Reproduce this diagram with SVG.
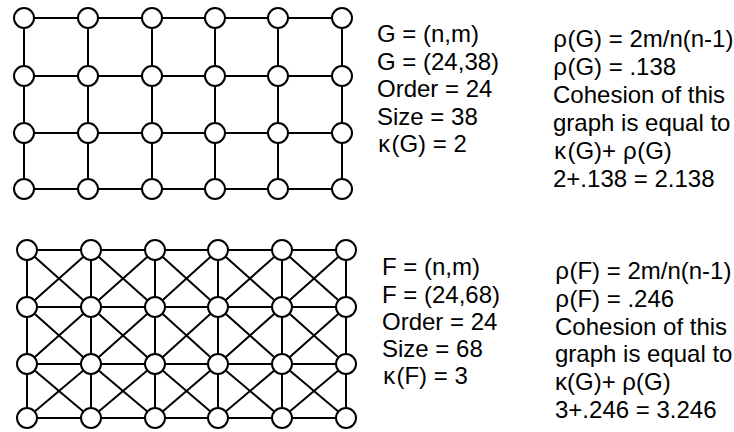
<svg xmlns="http://www.w3.org/2000/svg" width="734" height="432" viewBox="0 0 734 432">
<style>
.e{stroke:#000;stroke-width:2;fill:none}
.n{fill:#fff;stroke:#000;stroke-width:2}
.t{font-family:"Liberation Sans",Arial,sans-serif;font-size:24px;fill:#000}
.m{font-family:"Liberation Mono","Courier New",monospace}
</style>
<rect width="734" height="432" fill="#fff"/>
<g id="connectors">
<line class="e" x1="24" y1="18" x2="88" y2="18"/><line class="e" x1="88" y1="18" x2="152" y2="18"/><line class="e" x1="152" y1="18" x2="215" y2="18"/><line class="e" x1="215" y1="18" x2="278" y2="18"/><line class="e" x1="278" y1="18" x2="342" y2="18"/>
<line class="e" x1="24" y1="76" x2="88" y2="76"/><line class="e" x1="88" y1="76" x2="152" y2="76"/><line class="e" x1="152" y1="76" x2="215" y2="76"/><line class="e" x1="215" y1="76" x2="278" y2="76"/><line class="e" x1="278" y1="76" x2="342" y2="76"/>
<line class="e" x1="24" y1="133" x2="88" y2="133"/><line class="e" x1="88" y1="133" x2="152" y2="133"/><line class="e" x1="152" y1="133" x2="215" y2="133"/><line class="e" x1="215" y1="133" x2="278" y2="133"/><line class="e" x1="278" y1="133" x2="342" y2="133"/>
<line class="e" x1="24" y1="189" x2="88" y2="189"/><line class="e" x1="88" y1="189" x2="152" y2="189"/><line class="e" x1="152" y1="189" x2="215" y2="189"/><line class="e" x1="215" y1="189" x2="278" y2="189"/><line class="e" x1="278" y1="189" x2="342" y2="189"/>
<line class="e" x1="24" y1="18" x2="24" y2="76"/><line class="e" x1="24" y1="76" x2="24" y2="133"/><line class="e" x1="24" y1="133" x2="24" y2="189"/>
<line class="e" x1="88" y1="18" x2="88" y2="76"/><line class="e" x1="88" y1="76" x2="88" y2="133"/><line class="e" x1="88" y1="133" x2="88" y2="189"/>
<line class="e" x1="152" y1="18" x2="152" y2="76"/><line class="e" x1="152" y1="76" x2="152" y2="133"/><line class="e" x1="152" y1="133" x2="152" y2="189"/>
<line class="e" x1="215" y1="18" x2="215" y2="76"/><line class="e" x1="215" y1="76" x2="215" y2="133"/><line class="e" x1="215" y1="133" x2="215" y2="189"/>
<line class="e" x1="278" y1="18" x2="278" y2="76"/><line class="e" x1="278" y1="76" x2="278" y2="133"/><line class="e" x1="278" y1="133" x2="278" y2="189"/>
<line class="e" x1="342" y1="18" x2="342" y2="76"/><line class="e" x1="342" y1="76" x2="342" y2="133"/><line class="e" x1="342" y1="133" x2="342" y2="189"/>

<line class="e" x1="27" y1="250" x2="91" y2="250"/><line class="e" x1="91" y1="250" x2="155" y2="250"/><line class="e" x1="155" y1="250" x2="218" y2="250"/><line class="e" x1="218" y1="250" x2="282" y2="250"/><line class="e" x1="282" y1="250" x2="346" y2="250"/>
<line class="e" x1="27" y1="307" x2="91" y2="307"/><line class="e" x1="91" y1="307" x2="155" y2="307"/><line class="e" x1="155" y1="307" x2="218" y2="307"/><line class="e" x1="218" y1="307" x2="282" y2="307"/><line class="e" x1="282" y1="307" x2="346" y2="307"/>
<line class="e" x1="27" y1="364" x2="91" y2="364"/><line class="e" x1="91" y1="364" x2="155" y2="364"/><line class="e" x1="155" y1="364" x2="218" y2="364"/><line class="e" x1="218" y1="364" x2="282" y2="364"/><line class="e" x1="282" y1="364" x2="346" y2="364"/>
<line class="e" x1="27" y1="418" x2="91" y2="418"/><line class="e" x1="91" y1="418" x2="155" y2="418"/><line class="e" x1="155" y1="418" x2="218" y2="418"/><line class="e" x1="218" y1="418" x2="282" y2="418"/><line class="e" x1="282" y1="418" x2="346" y2="418"/>
<line class="e" x1="27" y1="250" x2="27" y2="307"/><line class="e" x1="27" y1="307" x2="27" y2="364"/><line class="e" x1="27" y1="364" x2="27" y2="418"/>
<line class="e" x1="91" y1="250" x2="91" y2="307"/><line class="e" x1="91" y1="307" x2="91" y2="364"/><line class="e" x1="91" y1="364" x2="91" y2="418"/>
<line class="e" x1="155" y1="250" x2="155" y2="307"/><line class="e" x1="155" y1="307" x2="155" y2="364"/><line class="e" x1="155" y1="364" x2="155" y2="418"/>
<line class="e" x1="218" y1="250" x2="218" y2="307"/><line class="e" x1="218" y1="307" x2="218" y2="364"/><line class="e" x1="218" y1="364" x2="218" y2="418"/>
<line class="e" x1="282" y1="250" x2="282" y2="307"/><line class="e" x1="282" y1="307" x2="282" y2="364"/><line class="e" x1="282" y1="364" x2="282" y2="418"/>
<line class="e" x1="346" y1="250" x2="346" y2="307"/><line class="e" x1="346" y1="307" x2="346" y2="364"/><line class="e" x1="346" y1="364" x2="346" y2="418"/>

<line class="e" x1="27" y1="250" x2="91" y2="307"/><line class="e" x1="91" y1="250" x2="27" y2="307"/>
<line class="e" x1="91" y1="250" x2="155" y2="307"/><line class="e" x1="155" y1="250" x2="91" y2="307"/>
<line class="e" x1="155" y1="250" x2="218" y2="307"/><line class="e" x1="218" y1="250" x2="155" y2="307"/>
<line class="e" x1="218" y1="250" x2="282" y2="307"/><line class="e" x1="282" y1="250" x2="218" y2="307"/>
<line class="e" x1="282" y1="250" x2="346" y2="307"/><line class="e" x1="346" y1="250" x2="282" y2="307"/>
<line class="e" x1="27" y1="307" x2="91" y2="364"/><line class="e" x1="91" y1="307" x2="27" y2="364"/>
<line class="e" x1="91" y1="307" x2="155" y2="364"/><line class="e" x1="155" y1="307" x2="91" y2="364"/>
<line class="e" x1="155" y1="307" x2="218" y2="364"/><line class="e" x1="218" y1="307" x2="155" y2="364"/>
<line class="e" x1="218" y1="307" x2="282" y2="364"/><line class="e" x1="282" y1="307" x2="218" y2="364"/>
<line class="e" x1="282" y1="307" x2="346" y2="364"/><line class="e" x1="346" y1="307" x2="282" y2="364"/>
<line class="e" x1="27" y1="364" x2="91" y2="418"/><line class="e" x1="91" y1="364" x2="27" y2="418"/>
<line class="e" x1="91" y1="364" x2="155" y2="418"/><line class="e" x1="155" y1="364" x2="91" y2="418"/>
<line class="e" x1="155" y1="364" x2="218" y2="418"/><line class="e" x1="218" y1="364" x2="155" y2="418"/>
<line class="e" x1="218" y1="364" x2="282" y2="418"/><line class="e" x1="282" y1="364" x2="218" y2="418"/>
<line class="e" x1="282" y1="364" x2="346" y2="418"/><line class="e" x1="346" y1="364" x2="282" y2="418"/>
</g>
<g id="graph-G">
<g id="g-r1c1"><circle class="n" cx="24" cy="18" r="10"/></g><g id="g-r1c2"><circle class="n" cx="88" cy="18" r="10"/></g><g id="g-r1c3"><circle class="n" cx="152" cy="18" r="10"/></g><g id="g-r1c4"><circle class="n" cx="215" cy="18" r="10"/></g><g id="g-r1c5"><circle class="n" cx="278" cy="18" r="10"/></g><g id="g-r1c6"><circle class="n" cx="342" cy="18" r="10"/></g>
<g id="g-r2c1"><circle class="n" cx="24" cy="76" r="10"/></g><g id="g-r2c2"><circle class="n" cx="88" cy="76" r="10"/></g><g id="g-r2c3"><circle class="n" cx="152" cy="76" r="10"/></g><g id="g-r2c4"><circle class="n" cx="215" cy="76" r="10"/></g><g id="g-r2c5"><circle class="n" cx="278" cy="76" r="10"/></g><g id="g-r2c6"><circle class="n" cx="342" cy="76" r="10"/></g>
<g id="g-r3c1"><circle class="n" cx="24" cy="133" r="10"/></g><g id="g-r3c2"><circle class="n" cx="88" cy="133" r="10"/></g><g id="g-r3c3"><circle class="n" cx="152" cy="133" r="10"/></g><g id="g-r3c4"><circle class="n" cx="215" cy="133" r="10"/></g><g id="g-r3c5"><circle class="n" cx="278" cy="133" r="10"/></g><g id="g-r3c6"><circle class="n" cx="342" cy="133" r="10"/></g>
<g id="g-r4c1"><circle class="n" cx="24" cy="189" r="10"/></g><g id="g-r4c2"><circle class="n" cx="88" cy="189" r="10"/></g><g id="g-r4c3"><circle class="n" cx="152" cy="189" r="10"/></g><g id="g-r4c4"><circle class="n" cx="215" cy="189" r="10"/></g><g id="g-r4c5"><circle class="n" cx="278" cy="189" r="10"/></g><g id="g-r4c6"><circle class="n" cx="342" cy="189" r="10"/></g>
</g>
<g id="graph-F">
<g id="f-r1c1"><circle class="n" cx="27" cy="250" r="10"/></g><g id="f-r1c2"><circle class="n" cx="91" cy="250" r="10"/></g><g id="f-r1c3"><circle class="n" cx="155" cy="250" r="10"/></g><g id="f-r1c4"><circle class="n" cx="218" cy="250" r="10"/></g><g id="f-r1c5"><circle class="n" cx="282" cy="250" r="10"/></g><g id="f-r1c6"><circle class="n" cx="346" cy="250" r="10"/></g>
<g id="f-r2c1"><circle class="n" cx="27" cy="307" r="10"/></g><g id="f-r2c2"><circle class="n" cx="91" cy="307" r="10"/></g><g id="f-r2c3"><circle class="n" cx="155" cy="307" r="10"/></g><g id="f-r2c4"><circle class="n" cx="218" cy="307" r="10"/></g><g id="f-r2c5"><circle class="n" cx="282" cy="307" r="10"/></g><g id="f-r2c6"><circle class="n" cx="346" cy="307" r="10"/></g>
<g id="f-r3c1"><circle class="n" cx="27" cy="364" r="10"/></g><g id="f-r3c2"><circle class="n" cx="91" cy="364" r="10"/></g><g id="f-r3c3"><circle class="n" cx="155" cy="364" r="10"/></g><g id="f-r3c4"><circle class="n" cx="218" cy="364" r="10"/></g><g id="f-r3c5"><circle class="n" cx="282" cy="364" r="10"/></g><g id="f-r3c6"><circle class="n" cx="346" cy="364" r="10"/></g>
<g id="f-r4c1"><circle class="n" cx="27" cy="418" r="10"/></g><g id="f-r4c2"><circle class="n" cx="91" cy="418" r="10"/></g><g id="f-r4c3"><circle class="n" cx="155" cy="418" r="10"/></g><g id="f-r4c4"><circle class="n" cx="218" cy="418" r="10"/></g><g id="f-r4c5"><circle class="n" cx="282" cy="418" r="10"/></g><g id="f-r4c6"><circle class="n" cx="346" cy="418" r="10"/></g>
</g>
<g id="text-G-left" class="t">
<text x="377" y="42">G = (n,m)</text>
<text x="377" y="70">G = (24,38)</text>
<text x="377" y="97">Order = 24</text>
<text x="377" y="125">Size = 38</text>
<text x="377" y="152"><tspan class="m">κ</tspan>(G) = 2</text>
</g>
<g id="text-G-right" class="t">
<text x="553" y="47"><tspan class="m">ρ</tspan>(G) = 2m/n(n-1)</text>
<text x="553" y="75"><tspan class="m">ρ</tspan>(G) = .138</text>
<text x="553" y="103">Cohesion of this</text>
<text x="553" y="131">graph is equal to</text>
<text x="553" y="159"><tspan class="m">κ</tspan>(G)+ <tspan class="m">ρ</tspan>(G)</text>
<text x="553" y="187">2+.138 = 2.138</text>
</g>
<g id="text-F-left" class="t">
<text x="382" y="275">F = (n,m)</text>
<text x="382" y="303">F = (24,68)</text>
<text x="382" y="330">Order = 24</text>
<text x="382" y="357">Size = 68</text>
<text x="382" y="384"><tspan class="m">κ</tspan>(F) = 3</text>
</g>
<g id="text-F-right" class="t">
<text x="555" y="279"><tspan class="m">ρ</tspan>(F) = 2m/n(n-1)</text>
<text x="555" y="307"><tspan class="m">ρ</tspan>(F) = .246</text>
<text x="555" y="335">Cohesion of this</text>
<text x="555" y="362">graph is equal to</text>
<text x="555" y="390">κ(G)+ ρ(G)</text>
<text x="555" y="418">3+.246 = 3.246</text>
</g>
</svg>
